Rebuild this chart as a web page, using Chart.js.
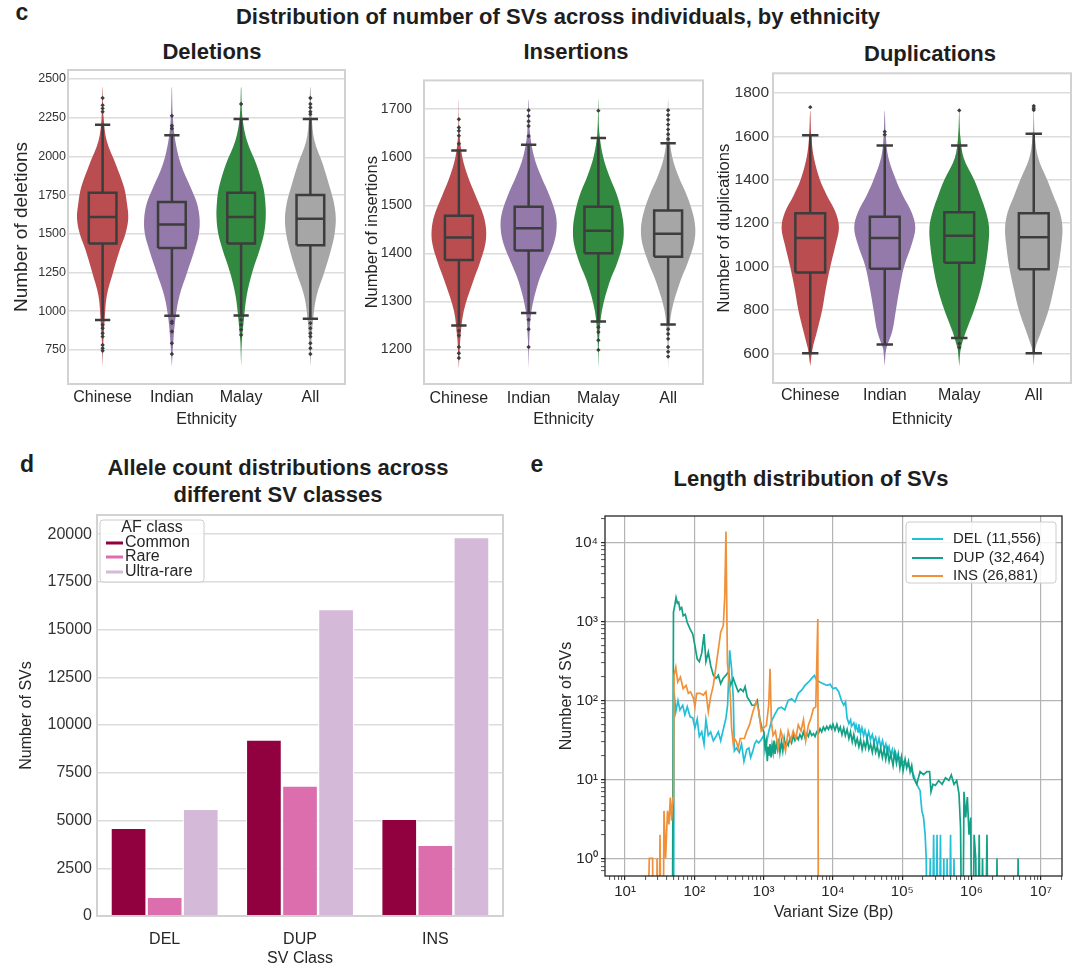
<!DOCTYPE html>
<html>
<head>
<meta charset="utf-8">
<script src="https://cdn.jsdelivr.net/npm/chart.js@4.4.0/dist/chart.umd.min.js"></script>
<style>
  body { margin: 0; background: #fff; }
  #page { position: relative; width: 1080px; height: 977px; overflow: hidden; background: #fff;
          font-family: "Liberation Sans", Arial, Helvetica, sans-serif; color: #1e1e1e; }
  canvas { position: absolute; }
  .t { position: absolute; white-space: nowrap; font-weight: bold; transform: translate(-50%, -50%); }
  .panel-title { font-size: 22px; }
  .letter { font-size: 23px; }
</style>
</head>
<body>
<div id="page">
  <div class="t letter" style="left:22px; top:12px;">c</div>
  <div class="t panel-title" style="left:558px; top:17px;">Distribution of number of SVs across individuals, by ethnicity</div>
  <div class="t panel-title" style="left:212px; top:52px;">Deletions</div>
  <div class="t panel-title" style="left:576px; top:52px;">Insertions</div>
  <div class="t panel-title" style="left:930px; top:54px;">Duplications</div>
  <div class="t letter" style="left:27px; top:464px;">d</div>
  <div class="t panel-title" style="left:278px; top:468px;">Allele count distributions across</div>
  <div class="t panel-title" style="left:278px; top:495px;">different SV classes</div>
  <div class="t letter" style="left:537px; top:464px;">e</div>
  <div class="t panel-title" style="left:811px; top:479px;">Length distribution of SVs</div>

  <canvas id="delChart" width="350" height="374" style="left:0px; top:60px;"></canvas>
  <canvas id="insChart" width="355" height="374" style="left:355px; top:60px;"></canvas>
  <canvas id="dupChart" width="370" height="373" style="left:710px; top:60px;"></canvas>
  <canvas id="afChart" width="515" height="477" style="left:0px; top:500px;"></canvas>
  <canvas id="lenChart" width="545" height="445" style="left:530px; top:500px;"></canvas>
</div>
<script>
// ---- data: SV counts per individual (violins + boxes) ----
const ethnicities = ['Chinese', 'Indian', 'Malay', 'All'];

const delTicks = [750, 1000, 1250, 1500, 1750, 2000, 2250, 2500];
const delLevels = [640, 800, 950, 1100, 1250, 1400, 1500, 1600, 1700, 1800, 1950, 2100, 2250, 2450];
const delViolinWidths = [
    [0, 0.01, 0.03, 0.06, 0.15, 0.25, 0.33, 0.37, 0.35, 0.31, 0.19, 0.06, 0.015, 0],
    [0, 0.02, 0.05, 0.11, 0.22, 0.33, 0.39, 0.40, 0.36, 0.27, 0.13, 0.05, 0.015, 0],
    [0, 0.01, 0.04, 0.08, 0.16, 0.27, 0.33, 0.355, 0.35, 0.32, 0.22, 0.085, 0.02, 0],
    [0, 0.015, 0.04, 0.09, 0.20, 0.30, 0.35, 0.367, 0.34, 0.28, 0.18, 0.06, 0.02, 0]
];
// [low whisker, Q1, median, Q3, high whisker]
const delBoxStats = [
    [944, 1437, 1608, 1765, 2204],
    [970, 1409, 1560, 1705, 2137],
    [972, 1437, 1608, 1765, 2241],
    [951, 1426, 1597, 1750, 2241]
];
const delOutliers = [
    [2377, 2331, 2310, 2288, 912, 890, 858, 836, 782, 761, 745],
    [2262, 2198, 2180, 934, 923, 869, 793, 724],
    [2338, 944, 912, 880, 847],
    [2377, 2338, 2316, 2288, 2273, 923, 890, 858, 836, 793, 761, 724]
];

const insTicks = [1200, 1300, 1400, 1500, 1600, 1700];
const insLevels = [1160, 1220, 1280, 1340, 1380, 1420, 1450, 1480, 1520, 1560, 1600, 1650, 1720];
const insViolinWidths = [
    [0, 0.02, 0.07, 0.20, 0.30, 0.38, 0.39, 0.35, 0.24, 0.13, 0.05, 0.01, 0],
    [0, 0.01, 0.04, 0.14, 0.25, 0.36, 0.40, 0.39, 0.30, 0.18, 0.08, 0.02, 0],
    [0, 0.01, 0.05, 0.16, 0.27, 0.35, 0.364, 0.34, 0.27, 0.16, 0.07, 0.015, 0],
    [0, 0.01, 0.05, 0.17, 0.28, 0.37, 0.39, 0.36, 0.27, 0.15, 0.06, 0.015, 0]
];
const insBoxStats = [
    [1250, 1386, 1433, 1478, 1614],
    [1276, 1406, 1452, 1497, 1626],
    [1258, 1400, 1447, 1497, 1640],
    [1252, 1393, 1441, 1489, 1629]
];
const insOutliers = [
    [1679, 1662, 1655, 1645, 1628, 1239, 1229, 1205, 1192, 1182],
    [1698, 1686, 1675, 1665, 1644, 1262, 1242, 1205],
    [1697, 1246, 1236, 1219, 1199],
    [1698, 1688, 1678, 1668, 1658, 1648, 1638, 1242, 1232, 1222, 1205, 1195, 1185]
];

const dupTicks = [600, 800, 1000, 1200, 1400, 1600, 1800];
const dupLevels = [540, 620, 700, 800, 900, 1000, 1100, 1180, 1250, 1330, 1400, 1500, 1600, 1720];
const dupViolinWidths = [
    [0, 0.03, 0.09, 0.16, 0.21, 0.27, 0.34, 0.385, 0.34, 0.22, 0.13, 0.05, 0.015, 0],
    [0, 0.02, 0.10, 0.15, 0.20, 0.26, 0.36, 0.41, 0.36, 0.24, 0.15, 0.05, 0.015, 0],
    [0, 0.02, 0.09, 0.20, 0.29, 0.35, 0.39, 0.40, 0.36, 0.28, 0.20, 0.06, 0.015, 0],
    [0, 0.02, 0.10, 0.20, 0.27, 0.33, 0.37, 0.385, 0.35, 0.26, 0.18, 0.06, 0.015, 0]
];
const dupBoxStats = [
    [600, 972, 1132, 1246, 1605],
    [641, 990, 1132, 1230, 1558],
    [671, 1018, 1142, 1250, 1558],
    [600, 987, 1135, 1246, 1612]
];
const dupOutliers = [
    [1735],
    [1622, 1608],
    [1720, 645, 627],
    [1740, 1730, 1722]
];

// ---- data: allele count by AF class ----
const svClasses = ['DEL', 'DUP', 'INS'];
const afClasses = ['Common', 'Rare', 'Ultra-rare'];
const afCommon = [4620, 9240, 5090];
const afRare = [1000, 6830, 3730];
const afUltraRare = [5620, 16070, 19850];
const afTicks = [0, 2500, 5000, 7500, 10000, 12500, 15000, 17500, 20000];

// ---- data: SV length histograms [size bp, count] ----
const lenLabels = ['DEL (11,556)', 'DUP (32,464)', 'INS (26,881)'];
const delLengthHist = [
    [50, 0], [51, 129], [54, 72], [58, 100], [62, 76], [68, 87], [73, 66], [79, 83], [87, 62], [95, 60],
    [102, 45], [110, 58], [118, 35], [128, 40], [138, 28], [147, 57], [159, 36], [172, 40], [188, 31],
    [205, 35], [222, 40], [240, 31], [260, 42], [286, 60], [302, 87], [324, 430], [345, 250], [365, 106],
    [378, 23], [405, 25], [445, 22], [480, 28], [520, 17], [570, 24], [612, 25], [650, 19], [700, 23],
    [740, 28], [790, 31], [850, 29], [925, 32], [1000, 36], [1094, 28], [1183, 40], [1293, 54], [1445, 66],
    [1618, 79], [1808, 82], [2020, 76], [2261, 100], [2530, 105], [2830, 96], [3162, 123], [3534, 135],
    [3950, 155], [4420, 170], [4940, 190], [5390, 207], [5820, 182], [6510, 170], [7280, 163], [8150, 155],
    [9110, 160], [10000, 141], [11000, 145], [12100, 129], [13250, 100], [14350, 87], [15200, 96],
    [16000, 60], [17000, 51], [18000, 57], [18500, 47], [20000, 52], [21000, 43], [21600, 49], [23000, 40],
    [23600, 50], [25000, 38], [26200, 45], [27700, 36], [29000, 42], [31000, 33], [32800, 40], [34800, 32],
    [37000, 37], [39000, 30], [41300, 34], [43800, 27], [46300, 33], [49000, 26], [52000, 31], [55000, 24],
    [58000, 28], [61000, 22], [64500, 26], [68000, 20], [72000, 24], [76000, 19], [80000, 22], [85000, 18],
    [92500, 19], [97500, 15.5], [103000, 17], [116000, 15.6], [130000, 14], [145000, 11.5],
    [162000, 8.7], [181000, 7.2], [192000, 4], [203000, 3.3], [214000, 2], [222000, 1], [232000, 0],
    [254000, 1], [265000, 0], [284000, 2], [300000, 0], [318000, 2], [335000, 0], [356000, 2], [375000, 0],
    [398000, 1], [420000, 0], [445000, 1], [470000, 0], [498000, 2], [528000, 0], [558000, 1], [590000, 0]
];
const dupLengthHist = [
    [48, 0], [50, 1300], [52.6, 1650], [54.5, 2000], [57, 1700], [59.4, 1750], [62, 1420], [65.6, 1500],
    [69, 1180], [74, 1230], [79, 970], [87, 800], [95, 690], [102, 490], [110, 335], [118, 310], [128, 400],
    [138, 690], [147, 310], [159, 410], [172, 277], [188, 209], [205, 190], [222, 209], [240, 163],
    [260, 190], [286, 209], [309, 230], [333, 155], [365, 190], [396, 155], [430, 129], [465, 140],
    [508, 130], [540, 150], [580, 110], [625, 100], [676, 87], [740, 87], [810, 100], [875, 60], [945, 45],
    [1010, 40], [1050, 24], [1094, 30], [1130, 17], [1160, 26], [1200, 20], [1237, 28], [1280, 19],
    [1325, 27], [1370, 22], [1413, 31], [1460, 21], [1530, 29], [1590, 24], [1655, 33], [1720, 22],
    [1808, 30], [1890, 23], [1978, 33], [2060, 26], [2137, 30], [2260, 27], [2390, 33], [2530, 29],
    [2675, 36], [2830, 31], [2990, 35], [3160, 32], [3340, 37], [3540, 33], [3740, 40], [3950, 34],
    [4170, 38], [4420, 35], [4660, 41], [4940, 36], [5230, 38], [5520, 35], [5830, 40], [6160, 38],
    [6510, 44], [6880, 40], [7280, 46], [7700, 42], [8150, 47], [8620, 43], [9110, 48], [9550, 44],
    [10000, 50], [10700, 42], [11400, 50], [12100, 41], [12770, 46], [13500, 37], [14300, 45], [15100, 36],
    [16000, 43], [17000, 33], [17900, 40], [19000, 30], [20000, 37], [21200, 28], [22400, 33], [23700, 26],
    [25000, 32], [26400, 24], [27900, 30], [29500, 25], [31200, 33], [33000, 24], [34900, 28], [37000, 22],
    [39100, 29], [41300, 22], [43700, 26], [46200, 20], [48900, 25], [51700, 19], [54700, 24], [57800, 18],
    [61100, 24], [64700, 17], [68400, 21], [73700, 15], [78000, 22], [82600, 16], [87500, 21], [92500, 14],
    [97500, 19], [103000, 13], [110000, 18], [116000, 14], [123000, 17], [130000, 12.5], [137000, 15],
    [145000, 10.5], [162000, 8.7], [181000, 12.6], [203000, 11.5], [227000, 12.6],
    [248000, 12.6], [260000, 7], [278000, 8.7], [300000, 8.4], [336000, 9.7], [376000, 8.7], [421000, 10.5],
    [471000, 9.7], [510000, 11.4], [558000, 8.7], [611000, 9.7], [659000, 6.6], [694000, 2.5], [738000, 0],
    [778000, 7], [823000, 3.3], [870000, 6], [920000, 2], [973000, 3.3], [1030000, 0], [1090000, 2],
    [1150000, 1], [1220000, 0], [1290000, 2], [1360000, 0], [1440000, 1], [1550000, 0], [1670000, 2],
    [1770000, 0], [2250000, 0], [2330000, 1], [2420000, 0], [4500000, 0], [4700000, 1], [4900000, 0]
];
const insLengthHist = [
    [20, 0], [22.4, 1], [25, 1], [26, 0], [28, 0], [29, 1], [30, 0], [32, 2], [33.5, 0], [35, 0],
    [36.5, 4], [38.5, 1], [41, 4], [43, 2.7], [45, 5.9], [47, 3], [49, 6], [50, 5], [51, 209], [54, 263],
    [57.6, 171], [63, 198], [69, 141], [76, 155], [82, 123], [88, 129], [97, 107], [102, 83], [108, 123],
    [121, 123], [135, 117], [147, 129], [159, 72], [172, 112], [188, 155], [210, 308], [240, 730],
    [262, 885], [275, 2100], [286, 13700], [300, 300], [330, 120], [345, 45], [365, 28], [380, 33],
    [405, 30], [430, 25], [460, 33], [500, 33], [528, 33], [565, 40], [625, 49], [700, 72], [782, 96],
    [846, 76], [925, 41], [1000, 45], [1094, 48], [1183, 87], [1237, 252], [1293, 54], [1367, 36],
    [1478, 41], [1618, 25], [1764, 41], [1911, 33], [2070, 23], [2261, 41], [2460, 31], [2675, 41],
    [2910, 33], [3162, 49], [3459, 41], [3760, 57], [4047, 31], [4430, 49], [4820, 60], [5230, 79],
    [5650, 83], [6050, 1070], [6190, 0]
];
const lenXDecades = [1, 2, 3, 4, 5, 6, 7];
const lenYDecades = [0, 1, 2, 3, 4];

// ---- styles ----
const violinColors = ['#b94d50', '#9479ab', '#318a3f', '#a6a6a6'];
const boxLine = '#3d3d3d';
const afColors = ['#91003f', '#dd6eae', '#d4b9d9'];
const lenColors = ['#22bfd9', '#12a086', '#f0913a'];
const FONT = '"Liberation Sans", Arial, Helvetica, sans-serif';

Chart.defaults.font.family = FONT;
Chart.defaults.color = '#262626';
Chart.defaults.animation = false;
Chart.defaults.events = [];
Chart.defaults.plugins.legend.display = false;
Chart.defaults.plugins.tooltip.enabled = false;

// axes frame (spines) on all four sides
const framePlugin = {
    id: 'frame',
    afterDatasetsDraw(chart, args, opts) {
        const { ctx, chartArea: a } = chart;
        ctx.save();
        ctx.strokeStyle = opts.color;
        ctx.lineWidth = opts.width;
        ctx.strokeRect(a.left, a.top, a.right - a.left, a.bottom - a.top);
        ctx.restore();
    }
};

// matplotlib-like legend box inside the axes
const boxLegend = {
    id: 'boxLegend',
    afterDraw(chart, args, o) {
        const { ctx, chartArea: a } = chart;
        const x = a.left + o.x, y = a.top + o.y;
        ctx.save();
        ctx.beginPath();
        ctx.roundRect(x, y, o.w, o.h, 3);
        ctx.fillStyle = 'rgba(255,255,255,0.85)';
        ctx.fill();
        ctx.strokeStyle = '#cccccc';
        ctx.lineWidth = 1;
        ctx.stroke();
        ctx.font = o.fontSize + 'px ' + FONT;
        ctx.textBaseline = 'middle';
        ctx.fillStyle = '#262626';
        if (o.title) {
            ctx.textAlign = 'center';
            ctx.fillText(o.title, x + o.w / 2, y + o.titleY);
        }
        ctx.textAlign = 'left';
        chart.data.datasets.forEach((ds, i) => {
            const ry = y + o.rows[i];
            ctx.strokeStyle = ds.legendColor;
            ctx.lineWidth = o.handleWidth;
            ctx.beginPath();
            ctx.moveTo(x + o.handleX, ry);
            ctx.lineTo(x + o.handleX + o.handleLen, ry);
            ctx.stroke();
            ctx.fillStyle = '#262626';
            ctx.fillText(ds.label, x + o.textX, ry);
        });
        ctx.restore();
    }
};

function violinChart(id, c) {
    const sets = [];
    const bw = 0.2, cw = 0.11;
    ethnicities.forEach((name, i) => {
        const w = c.widths[i];
        const outline = [];
        c.levels.forEach((y, k) => outline.push({ x: i + w[k], y: y }));
        for (let k = c.levels.length - 1; k >= 0; k--) {
            if (w[k] > 0) outline.push({ x: i - w[k], y: c.levels[k] });
        }
        sets.push({ data: outline, showLine: true, fill: 'shape', backgroundColor: violinColors[i],
            borderWidth: 0, pointRadius: 0, tension: 0.35, order: 4 });

        const [lo, q1, med, q3, hi] = c.boxes[i];
        sets.push({ data: [{ x: i - bw, y: q1 }, { x: i + bw, y: q1 }, { x: i + bw, y: q3 }, { x: i - bw, y: q3 }, { x: i - bw, y: q1 }],
            showLine: true, fill: 'shape', backgroundColor: violinColors[i], borderColor: boxLine,
            borderWidth: 2.5, pointRadius: 0, order: 3 });
        const gap = { x: i, y: null };
        sets.push({ data: [
                { x: i, y: lo }, { x: i, y: q1 }, gap,
                { x: i, y: q3 }, { x: i, y: hi }, gap,
                { x: i - cw, y: lo }, { x: i + cw, y: lo }, gap,
                { x: i - cw, y: hi }, { x: i + cw, y: hi }, gap,
                { x: i - bw, y: med }, { x: i + bw, y: med }
            ],
            showLine: true, spanGaps: false, borderColor: boxLine, borderWidth: 2.5, pointRadius: 0, order: 2 });
        sets.push({ data: c.outliers[i].map(v => ({ x: i, y: v })), showLine: false, pointStyle: 'rectRot',
            pointRadius: 2.2, backgroundColor: boxLine, borderWidth: 0, order: 1 });
    });

    new Chart(document.getElementById(id), {
        type: 'scatter',
        data: { datasets: sets },
        options: {
            responsive: false,
            layout: { padding: { top: c.padTop, right: c.padRight, left: 0, bottom: 0 } },
            scales: {
                x: {
                    type: 'linear', min: -0.5, max: 3.5,
                    afterBuildTicks: s => { s.ticks = ethnicities.map((_, i) => ({ value: i })); },
                    afterFit: s => { s.height = 50; },
                    grid: { display: false },
                    border: { display: false },
                    ticks: { callback: v => ethnicities[v], font: { size: 16 }, padding: c.xTickPad,
                        maxRotation: 0, autoSkip: false, color: '#262626' },
                    title: { display: true, text: 'Ethnicity', font: { size: 16 }, color: '#262626',
                        padding: { top: 0, bottom: c.xTitlePad } }
                },
                y: {
                    min: c.min, max: c.max,
                    afterBuildTicks: s => { s.ticks = c.ticks.map(v => ({ value: v })); },
                    afterFit: s => { s.width = c.yWidth; },
                    grid: { color: '#dcdcdc', lineWidth: 1.5, drawTicks: false },
                    border: { display: false },
                    ticks: { callback: v => String(v), font: { size: c.yTickSize }, padding: c.yTickPad,
                        autoSkip: false, color: '#333333' },
                    title: { display: true, text: c.yTitle, font: { size: c.yTitleSize }, color: '#262626',
                        padding: { top: c.yTitlePad, bottom: 0 } }
                }
            },
            plugins: { frame: { color: '#d2d2d2', width: 2 } }
        },
        plugins: [framePlugin]
    });
}

violinChart('delChart', {
    levels: delLevels, widths: delViolinWidths, boxes: delBoxStats, outliers: delOutliers, ticks: delTicks,
    min: 530, max: 2558, padTop: 10, padRight: 5, yWidth: 68,
    yTickSize: 12.5, yTickPad: 2, yTitle: 'Number of deletions', yTitleSize: 19, yTitlePad: 10.6,
    xTickPad: -3.6, xTitlePad: 4.4
});
violinChart('insChart', {
    levels: insLevels, widths: insViolinWidths, boxes: insBoxStats, outliers: insOutliers, ticks: insTicks,
    min: 1128, max: 1760, padTop: 9, padRight: 7, yWidth: 69,
    yTickSize: 14, yTickPad: 12, yTitle: 'Number of insertions', yTitleSize: 16.5, yTitlePad: 8,
    xTickPad: -2.6, xTitlePad: 4.4
});
violinChart('dupChart', {
    levels: dupLevels, widths: dupViolinWidths, boxes: dupBoxStats, outliers: dupOutliers, ticks: dupTicks,
    min: 463, max: 1891, padTop: 10, padRight: 9, yWidth: 63,
    yTickSize: 15.5, yTickPad: 4, yTitle: 'Number of duplications', yTitleSize: 16.5, yTitlePad: 5,
    xTickPad: -5.5, xTitlePad: 3.4
});

// ---- panel d: grouped bars ----
new Chart(document.getElementById('afChart'), {
    type: 'bar',
    data: {
        labels: svClasses,
        datasets: [afCommon, afRare, afUltraRare].map((vals, k) => ({
            label: afClasses[k], data: vals, backgroundColor: afColors[k], legendColor: afColors[k],
            borderColor: '#ffffff', borderWidth: 1.2, borderSkipped: 'bottom',
            categoryPercentage: 0.8, barPercentage: 1
        }))
    },
    options: {
        responsive: false,
        layout: { padding: { top: 15, right: 12, left: 0, bottom: 0 } },
        scales: {
            x: {
                afterFit: s => { s.height = 61; },
                grid: { display: false },
                border: { display: false },
                ticks: { font: { size: 16 }, padding: 6.4, color: '#262626' },
                title: { display: true, text: 'SV Class', font: { size: 16 }, color: '#262626',
                    padding: { top: 0, bottom: 8.4 } }
            },
            y: {
                min: 0, max: 21000,
                afterBuildTicks: s => { s.ticks = afTicks.map(v => ({ value: v })); },
                afterFit: s => { s.width = 97; },
                grid: { color: '#dcdcdc', lineWidth: 1.5, drawTicks: false },
                border: { display: false },
                ticks: { callback: v => String(v), font: { size: 16 }, padding: 5, color: '#333333' },
                title: { display: true, text: 'Number of SVs', font: { size: 16 }, color: '#262626',
                    padding: { top: 17.4, bottom: 0 } }
            }
        },
        plugins: {
            frame: { color: '#d2d2d2', width: 2 },
            boxLegend: { x: 3, y: 5, w: 104, h: 62, fontSize: 16, title: 'AF class', titleY: 8,
                rows: [23, 37, 52], handleX: 6, handleLen: 17, handleWidth: 3, textX: 25 }
        }
    },
    plugins: [framePlugin, boxLegend]
});

// ---- panel e: length distributions on log-log axes ----
const SUP = { '0': '\u2070', '1': '\u00b9', '2': '\u00b2', '3': '\u00b3', '4': '\u2074',
              '5': '\u2075', '6': '\u2076', '7': '\u2077', '-': '\u207b' };
function pow10Label(v) {
    return '10' + String(Math.round(Math.log10(v))).split('').map(ch => SUP[ch]).join('');
}
function logTicks(decades, min, max) {
    const t = [];
    for (let d = decades[0] - 1; d <= decades[decades.length - 1]; d++) {
        for (let m = 1; m <= 9; m++) {
            const v = m * Math.pow(10, d);
            if (v >= min && v <= max) t.push({ value: v, major: m === 1 && decades.includes(d) });
        }
    }
    return t;
}
const ZERO_PLOT = 0.01; // zero-count bins drop below the axis
const lenMin = { x: 5.14, y: 0.648 };
const lenMax = { x: 2.02e7, y: 21600 };

function logAxis(axis, decades, size, extra) {
    return Object.assign({
        type: 'logarithmic', min: lenMin[axis], max: lenMax[axis],
        afterBuildTicks: s => { s.ticks = logTicks(decades, lenMin[axis], lenMax[axis]); },
        grid: {
            color: c => (c.tick && c.tick.major) ? '#b4b4b4' : 'rgba(0,0,0,0)',
            lineWidth: 1.2, drawTicks: true, tickLength: 4, tickColor: '#262626',
            tickWidth: c => (c.tick && c.tick.major) ? 1.2 : 0.8
        },
        border: { display: false },
        ticks: { callback: (v, i, t) => t[i].major ? pow10Label(v) : '', font: { size: size },
            autoSkip: false, maxRotation: 0, color: '#262626' }
    }, extra);
}

new Chart(document.getElementById('lenChart'), {
    type: 'scatter',
    data: {
        datasets: [delLengthHist, dupLengthHist, insLengthHist].map((hist, k) => ({
            label: lenLabels[k],
            data: hist.map(p => ({ x: p[0], y: p[1] > 0 ? p[1] : ZERO_PLOT })),
            showLine: true, borderColor: lenColors[k], legendColor: lenColors[k], borderWidth: 1.7,
            pointRadius: 0, tension: 0, order: 3 - k
        }))
    },
    options: {
        responsive: false,
        layout: { padding: { top: 16, right: 13, left: 0, bottom: 0 } },
        scales: {
            x: logAxis('x', lenXDecades, 15, {
                afterFit: s => { s.height = 69; },
                title: { display: true, text: 'Variant Size (Bp)', font: { size: 16 }, color: '#262626',
                    padding: { top: 0, bottom: 22.4 } }
            }),
            y: logAxis('y', lenYDecades, 15, {
                afterFit: s => { s.width = 75; },
                title: { display: true, text: 'Number of SVs', font: { size: 16 }, color: '#262626',
                    padding: { top: 27.4, bottom: 0 } }
            })
        },
        plugins: {
            frame: { color: '#262626', width: 1.3 },
            boxLegend: { x: 301, y: 6, w: 150, h: 61, fontSize: 15, title: null,
                rows: [17, 36, 54], handleX: 6, handleLen: 31, handleWidth: 2, textX: 47 }
        }
    },
    plugins: [framePlugin, boxLegend]
});
</script>
</body>
</html>
